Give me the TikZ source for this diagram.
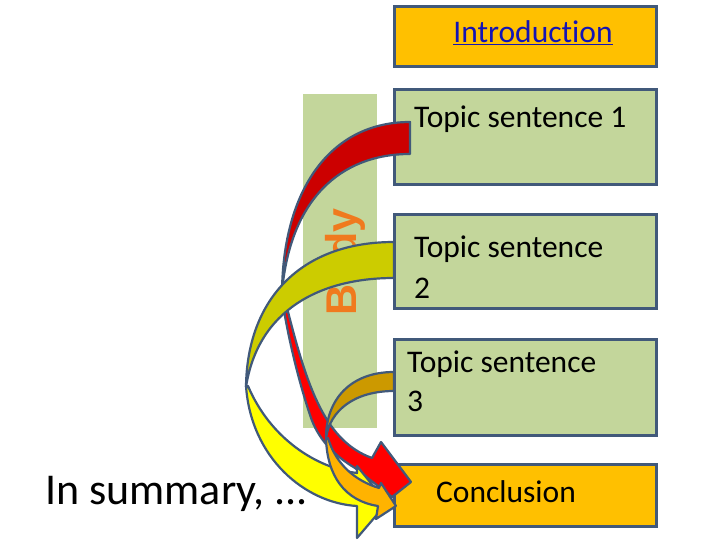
\documentclass[tikz,border=0pt]{standalone}
\usepackage{fontspec}
\setmainfont{Carlito}[Ligatures={TeX,NoCommon}]
\newfontfamily\bodyfont{Liberation Sans}
\definecolor{edgec}{HTML}{41597A}
\definecolor{goldbox}{HTML}{FFC000}
\definecolor{greenbox}{HTML}{C3D69B}
\definecolor{reddark}{HTML}{CC0000}
\definecolor{redbright}{HTML}{FF0000}
\definecolor{yeldark}{HTML}{CCCC00}
\definecolor{yelbright}{HTML}{FFFF00}
\definecolor{ordark}{HTML}{CC9900}
\definecolor{orbright}{HTML}{FFB300}
\definecolor{linkblue}{HTML}{1414B4}
\definecolor{bodyorange}{HTML}{F07A1E}
\begin{document}
\begin{tikzpicture}[x=1pt,y=-1pt,
  box/.style={draw=edgec, line width=2.6pt, minimum width=262pt, inner sep=0pt, anchor=north west},
  arrowpart/.style={draw=edgec, line width=2.2pt, line join=round},
  txt/.style={inner sep=0pt, anchor=base west, font=\fontsize{31.5}{38}\selectfont}]
\useasboundingbox (0,0) rectangle (720,540);
% body band
\node[fill=greenbox, inner sep=0pt, minimum width=74pt, minimum height=334pt, anchor=north west] (body) at (303,94) {};
\node[rotate=90, anchor=base west, inner sep=0pt, text=bodyorange,
      font=\bodyfont\bfseries\fontsize{43}{43}\selectfont] (bodytxt) at (356,316) {Body};
% boxes
\node[box, fill=goldbox, minimum height=60pt] (intro) at (393,5) {};
\node[box, fill=greenbox, minimum height=95pt] (t1) at (393,88) {};
\node[box, fill=greenbox, minimum height=94pt] (t2) at (393,213) {};
\node[box, fill=greenbox, minimum height=96pt] (t3) at (393,338) {};
\node[box, fill=goldbox, minimum height=62pt] (concl) at (393,463) {};
% texts
\node[txt, anchor=base, text=linkblue] (introtxt) at (533,43) {\underline{Introduction}};
\node[txt] (t1txt) at (414,128) {Topic sentence 1};
\node[txt] (t2txta) at (414,258) {Topic sentence};
\node[txt] (t2txtb) at (414,298) {2};
\node[txt] (t3txta) at (407,372) {Topic sentence};
\node[txt] (t3txtb) at (407,411) {3};
\node[txt, anchor=base] (concltxt) at (506,502) {Conclusion};
\node[inner sep=0pt, anchor=base west, font=\fontsize{44}{52}\selectfont] (summary) at (45,504) {In summary, ...};
% red arrow
\path[arrowpart, fill=reddark]
  (410,122) .. controls (330,122) and (283,190) .. (282,292)
  .. controls (290,200) and (340,154) .. (410,154) -- cycle;
\path[arrowpart, fill=redbright]
  (283,292) .. controls (305,380) and (322,440) .. (372,458)
  -- (381,442) -- (411,482) -- (392,497) -- (355,468)
  .. controls (335,456) and (318,440) .. (310,415)
  .. controls (300,385) and (288,340) .. (281,292) -- cycle;
% yellow arrow
\path[arrowpart, fill=yeldark]
  (394,242) .. controls (300,242) and (247,300) .. (246,387)
  .. controls (258,310) and (320,278) .. (394,278) -- cycle;
\path[arrowpart, fill=yelbright]
  (246,386) .. controls (251,458) and (305,503) .. (357,506)
  -- (357,538) -- (387,503) -- (357,466) -- (357,473)
  .. controls (316,468) and (270,438) .. (248,386) -- cycle;
% orange arrow
\path[arrowpart, fill=ordark]
  (394,372) .. controls (350,372) and (326,400) .. (326,438)
  .. controls (330,410) and (355,391) .. (394,391) -- cycle;
\path[arrowpart, fill=orbright]
  (326,438) .. controls (327,476) and (345,501) .. (378,506)
  -- (376,519) -- (396,506) -- (381,483) -- (379,488)
  .. controls (356,481) and (336,465) .. (328,438) -- cycle;
\end{tikzpicture}
\end{document}
